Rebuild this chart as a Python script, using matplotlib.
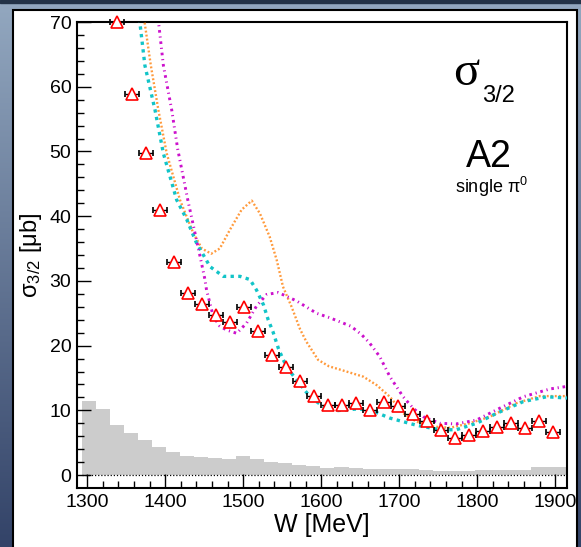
import numpy as np
import matplotlib
matplotlib.use("Agg")
import matplotlib.pyplot as plt
from matplotlib.patches import Rectangle

plt.rcParams['font.family'] = ['Liberation Sans', 'DejaVu Sans']
plt.rcParams['mathtext.fontset'] = 'custom'
plt.rcParams['mathtext.rm'] = 'Liberation Sans'
plt.rcParams['mathtext.it'] = 'Liberation Sans:italic'

# measured sigma_3/2 points (W in MeV, sigma in mub)
w_data = [1338, 1357, 1375, 1393, 1411, 1429, 1447, 1465, 1483, 1501, 1519,
          1537, 1555, 1573, 1591, 1609, 1627, 1645, 1663, 1681, 1699, 1717,
          1735, 1753, 1771, 1789, 1807, 1825, 1843, 1861, 1879, 1897]
sigma_data = [70.0, 58.9, 49.7, 40.9, 32.9, 28.2, 26.4, 24.7, 23.6, 26.0, 22.2,
              18.5, 16.7, 14.6, 12.2, 10.8, 10.9, 11.1, 10.1, 11.3, 10.6, 9.4,
              8.3, 6.9, 5.7, 6.2, 6.8, 7.5, 8.0, 7.2, 8.3, 6.6]
w_err = 9

# systematic error histogram
hist_edges = [1293 + 18 * k for k in range(36)]
hist_vals = [11.45, 10.2, 7.74, 6.55, 5.37, 4.4, 3.5, 3.0, 2.75, 2.6, 2.5, 3.0,
             2.45, 2.0, 1.8, 1.6, 1.4, 1.1, 1.3, 1.1, 0.98, 1.0, 0.98, 0.88,
             0.77, 0.62, 0.62, 0.67, 0.72, 0.77, 0.77, 0.77, 1.3, 1.3, 1.3]

# model curves
w_orange = [1373, 1381.6, 1391.3, 1402, 1419, 1436, 1447, 1459, 1470, 1483,
            1498, 1511, 1521.5, 1534, 1543, 1551, 1562, 1573, 1581, 1596,
            1610, 1624, 1654, 1671, 1688, 1705, 1722, 1743, 1765, 1790, 1816,
            1850, 1880, 1915]
s_orange = [70.5, 63.3, 56.4, 49.7, 42.5, 37.4, 35.0, 34.2, 35.0, 37.9,
            41.0, 42.4, 40.4, 36.8, 33.2, 29.1, 26.0, 22.5, 20.6, 17.8,
            16.8, 16.3, 15.2, 13.9, 12.1, 9.55, 8.25, 7.5, 7.3, 8.0, 9.0,
            11.1, 12.2, 12.2]

w_cyan = [1367, 1374, 1387, 1397.7, 1414.8, 1427.6, 1440, 1457.5, 1474.5,
          1496, 1508.7, 1517, 1526, 1532, 1538, 1545, 1551, 1556, 1560,
          1568.5, 1585.5, 1602.5, 1619.7, 1645, 1662, 1688, 1722, 1752, 1773,
          1799, 1825, 1859, 1889, 1915]
s_cyan = [70.5, 63.3, 56.4, 49.7, 42.5, 39.5, 35.9, 32.2, 30.7,
          30.7, 30.2, 28.6, 26.3, 24.0, 22.2, 19.6, 17.9, 16.7, 16.0,
          14.7, 12.1, 10.6, 9.95, 10.2, 10.1, 8.8, 7.7, 7.0, 7.0,
          8.0, 9.55, 11.35, 12.1, 11.9]

w_magenta = [1391, 1397.7, 1408.4, 1416, 1429, 1444.7, 1451, 1453, 1461.7,
             1470, 1479, 1491.7, 1504.5, 1517, 1530, 1545, 1568.5, 1594, 1611,
             1638, 1651.7, 1662, 1675, 1688, 1705, 1718, 1731, 1752, 1773,
             1799, 1825, 1859, 1893, 1915]
s_magenta = [70.5, 63.3, 56.4, 50.4, 42.5, 33.8, 30.2, 28.6, 24.5,
             23.0, 22.4, 21.9, 23.5, 26.1, 27.9, 28.2, 26.9, 25.0, 24.3,
             23.0, 21.7, 20.4, 18.3, 15.2, 12.1, 10.3, 9.0, 8.0, 7.9,
             8.5, 10.1, 12.1, 13.3, 13.7]

W, H = 581, 547
fig = plt.figure(figsize=(W / 100, H / 100), dpi=100)

# blue gradient background
bg = fig.add_axes([0, 0, 1, 1], zorder=-10)
top = np.array([0x93, 0xa8, 0xc0]) / 255.
bot = np.array([0x33, 0x43, 0x68]) / 255.
t = np.linspace(0, 1, 256)[:, None]
grad = (top[None, :] * (1 - t) + bot[None, :] * t)[:, None, :]
grad = np.repeat(grad, 4, axis=1)
bg.imshow(grad, aspect='auto', extent=[0, 1, 0, 1])
bg.add_patch(Rectangle((0, 1 - 3 / H), 1, 3 / H, color='#233247'))
bg.axis('off')

# white pad
fig.add_artist(Rectangle((13 / W, -0.05), (577 - 13) / W, 1.05 - 10 / H,
                         transform=fig.transFigure, facecolor='white',
                         edgecolor='black', linewidth=1.5, zorder=-5))

ax = fig.add_axes([77 / W, 1 - 488 / H, 490 / W, 466 / H])
ax.set_facecolor('white')

ax.stairs(hist_vals, hist_edges, fill=True, color='#cccccc', zorder=1)
ax.hlines(0, hist_edges[0], 1915, colors='black', linestyles=(0, (1, 1.5)),
          linewidth=0.9, zorder=2)

ax.plot(w_orange, s_orange, color='#ff9a3c', lw=1.7, ls=(0, (0.8, 0.9)), zorder=3)
ax.plot(w_cyan, s_cyan, color='#12c4c8', lw=2.4, ls=(0, (1, 1.3)), zorder=3)
ax.plot(w_magenta, s_magenta, color='#cc11cc', lw=2.1,
        ls=(0, (0.9, 1.3, 0.4, 1.3)), zorder=3)

ax.errorbar(w_data, sigma_data, xerr=w_err, fmt='^', ms=8.5, mfc='white',
            mec='red', mew=1.2, ecolor='black', elinewidth=1, capsize=2,
            capthick=1, zorder=5, clip_on=False)

ax.set_xlim(1287, 1915)
ax.set_ylim(-2, 70)
ax.set_xticks(range(1300, 1901, 100))
ax.set_xticks(range(1300, 1915, 20), minor=True)
ax.set_yticks(range(0, 71, 10))
ax.set_yticks(range(0, 71, 2), minor=True)
ax.tick_params(which='both', direction='in', top=False, right=False,
               labelsize=14, width=1)
ax.tick_params(which='major', length=10, pad=4)
ax.tick_params(which='minor', length=5)
for s in ax.spines.values():
    s.set_linewidth(1.5)

ax.set_xlabel('W [MeV]', fontsize=18, labelpad=2)
ax.set_ylabel(r'σ$_{3/2}$ [μb]', fontsize=17, labelpad=4)

# labels in the top right
fig.text(453 / W, 1 - 85 / H, 'σ', fontsize=35, family='Liberation Serif',
         va='baseline', ha='left')
fig.text(482 / W, 1 - 102 / H, '3/2', fontsize=17, va='baseline', ha='left')
fig.text(489 / W, 1 - 167 / H, 'A2', fontsize=27, va='baseline', ha='center')
fig.text(492 / W, 1 - 193 / H, r'single π$^0$', fontsize=13, va='baseline',
         ha='center')

fig.savefig('out.png', dpi=100)
